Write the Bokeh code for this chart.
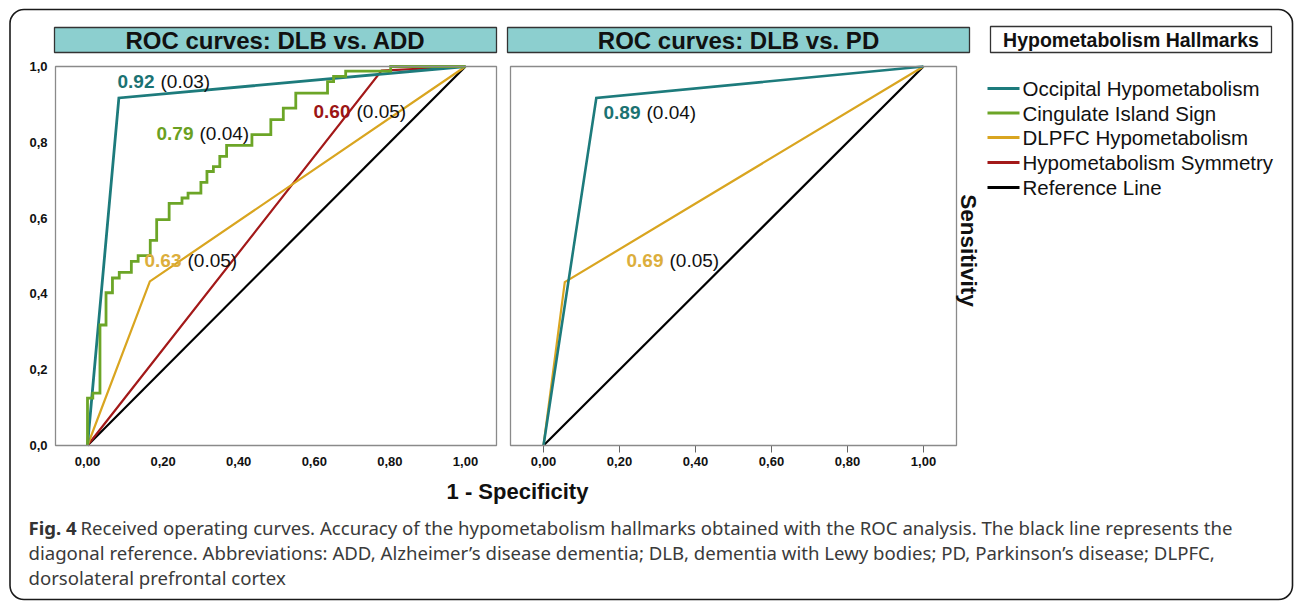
import math
from bokeh.plotting import figure
from bokeh.models import (Range1d, LinearAxis, FixedTicker, CustomJSTickFormatter,
                          BoxAnnotation, Label, ColumnDataSource)
from bokeh.core.properties import value
from bokeh.embed import file_html
from bokeh.resources import INLINE

# ------------------------------------------------------------------ data
tick_values = [0.0, 0.2, 0.4, 0.6, 0.8, 1.0]
panel_titles = ["ROC curves: DLB vs. ADD", "ROC curves: DLB vs. PD"]
legend_title = "Hypometabolism Hallmarks"
series_names = ["Occipital Hypometabolism", "Cingulate Island Sign",
                "DLPFC Hypometabolism", "Hypometabolism Symmetry", "Reference Line"]
x_label = "1 - Specificity"
y_label = "Sensitivity"

# DLB vs. ADD
add_occipital_fpr = [0.0, 0.083, 1.0]
add_occipital_tpr = [0.0, 0.917, 1.0]
# cingulate island sign: 1-specificity at which each sensitivity step occurs, and the new sensitivity
add_cingulate_fpr = [0.0, 0.014, 0.033, 0.049, 0.066, 0.084, 0.116, 0.134, 0.166, 0.183,
                     0.216, 0.250, 0.266, 0.300, 0.316, 0.333, 0.350, 0.368, 0.435, 0.485,
                     0.518, 0.551, 0.635, 0.651, 0.683, 0.802, 1.0]
add_cingulate_tpr = [0.125, 0.138, 0.318, 0.403, 0.442, 0.457, 0.486, 0.501, 0.541, 0.596,
                     0.639, 0.653, 0.666, 0.694, 0.723, 0.736, 0.763, 0.792, 0.820, 0.860,
                     0.890, 0.930, 0.960, 0.974, 0.988, 1.0, 1.0]
add_dlpfc_fpr = [0.0, 0.165, 1.0]
add_dlpfc_tpr = [0.0, 0.433, 1.0]
add_symmetry_fpr = [0.0, 0.778, 1.0]
add_symmetry_tpr = [0.0, 0.989, 1.0]
reference_fpr = [0.0, 1.0]
reference_tpr = [0.0, 1.0]

# DLB vs. PD
pd_occipital_fpr = [0.0, 0.139, 1.0]
pd_occipital_tpr = [0.0, 0.917, 1.0]
pd_dlpfc_fpr = [0.0, 0.056, 1.0]
pd_dlpfc_tpr = [0.0, 0.431, 1.0]

# AUC (SE) annotations: occipital, cingulate, DLPFC, symmetry | occipital, DLPFC
add_auc = ["0.92", "0.79", "0.63", "0.60"]
add_auc_se = ["(0.03)", "(0.04)", "(0.05)", "(0.05)"]
pd_auc = ["0.89", "0.69"]
pd_auc_se = ["(0.04)", "(0.05)"]

caption_bold = "Fig. 4"
caption_lines = [
    "Received operating curves. Accuracy of the hypometabolism hallmarks obtained with the ROC analysis. The black line represents the",
    "diagonal reference. Abbreviations: ADD, Alzheimer\u2019s disease dementia; DLB, dementia with Lewy bodies; PD, Parkinson\u2019s disease; DLPFC,",
    "dorsolateral prefrontal cortex",
]

# ------------------------------------------------------------------ styles / layout
series_colors = ["#1d7b7c", "#6ca527", "#d9a520", "#a31919", "#000000"]
label_colors = ["#1b7272", "#6aa022", "#dcae3c", "#9c1515"]
ARIAL = "Liberation Sans"

WIDTH, HEIGHT = 1294, 602
OX, OY = 0, 0                 # canvas coords equal window pixels
LX0, LXS = 87, 378            # left panel: pixel of fpr=0, pixels per unit
RX0, RXS = 543, 380           # right panel
Y0, YS = 445, 379             # both panels: pixel of tpr=0, pixels per unit

p = figure(width=WIDTH, height=HEIGHT,
           x_range=Range1d(OX, OX + WIDTH), y_range=Range1d(OY + HEIGHT, OY),
           x_axis_type=None, y_axis_type=None,
           toolbar_location=None, output_backend="svg", min_border=0)
p.outline_line_color = None
p.background_fill_color = "white"
p.border_fill_color = "white"
p.extra_x_ranges = {
    "lx": Range1d((OX - LX0) / LXS, (OX + WIDTH - LX0) / LXS),
    "rx": Range1d((OX - RX0) / RXS, (OX + WIDTH - RX0) / RXS),
}
p.extra_y_ranges = {"ry": Range1d((Y0 - (OY + HEIGHT)) / YS, (Y0 - OY) / YS)}

# outer rounded frame
p.add_layout(BoxAnnotation(left=9.5, right=1292, top=9, bottom=599, border_radius=14,
                           fill_color=None, line_color="#1a1a1a", line_alpha=1, line_width=1.6))

# panel frames
for (l, r) in [(55, 496), (510, 956)]:
    p.add_layout(BoxAnnotation(left=l, right=r, top=66, bottom=445, fill_color=None,
                               line_color="#8a8a8a", line_alpha=1, line_width=1.3))

# title boxes
for (l, r), title in zip([(54, 496), (507, 969)], panel_titles):
    p.add_layout(BoxAnnotation(left=l, right=r, top=27, bottom=52, fill_color="#8ccfcf",
                               fill_alpha=1, line_color="#333333", line_alpha=1, line_width=1.3))
    p.add_layout(Label(x=(l + r) / 2, y=40, text=title, text_align="center",
                       text_baseline="middle", text_font=ARIAL, text_font_style="bold",
                       text_font_size="24px", text_color="#111111"))
p.add_layout(BoxAnnotation(left=990, right=1271, top=26, bottom=52, fill_color="white",
                           fill_alpha=1, line_color="#333333", line_alpha=1, line_width=1.3))
p.add_layout(Label(x=1130.5, y=39.5, text=legend_title, text_align="center",
                   text_baseline="middle", text_font=ARIAL, text_font_style="bold",
                   text_font_size="19.5px", text_color="#111111"))

# axes
fmt2 = CustomJSTickFormatter(code="return tick.toFixed(2).replace('.', ',');")
fmt1 = CustomJSTickFormatter(code="return tick.toFixed(1).replace('.', ',');")
label_kw = dict(major_label_text_font=ARIAL, major_label_text_font_style="bold",
                major_label_text_font_size="13px", major_label_text_color="#111111",
                axis_line_color=None, minor_tick_line_color=None, major_tick_in=0)
for rng, tick_len, tick_color, standoff in [("lx", 0, None, 11), ("rx", 7, "#666666", 4)]:
    ax = LinearAxis(x_range_name=rng, y_range_name="ry", fixed_location=0.0, bounds=(0, 1),
                    ticker=FixedTicker(ticks=tick_values), formatter=fmt2,
                    major_tick_out=tick_len, major_tick_line_color=tick_color,
                    major_label_standoff=standoff, **label_kw)
    p.add_layout(ax, "below")
ay = LinearAxis(x_range_name="lx", y_range_name="ry", fixed_location=(55 - LX0) / LXS,
                bounds=(0, 1), ticker=FixedTicker(ticks=tick_values), formatter=fmt1,
                major_tick_out=0, major_tick_line_color=None, major_label_standoff=8, **label_kw)
p.add_layout(ay, "left")

# curves
def staircase(xs, ys):
    sx, sy = [0.0], [0.0]
    for x, y in zip(xs, ys):
        sx += [x, x]
        sy += [sy[-1], y]
    return sx, sy

cis_x, cis_y = staircase(add_cingulate_fpr, add_cingulate_tpr)
left_curves = [
    (reference_fpr, reference_tpr, 4, 2.2),
    (add_symmetry_fpr, add_symmetry_tpr, 3, 2.2),
    (add_dlpfc_fpr, add_dlpfc_tpr, 2, 2.2),
    (add_occipital_fpr, add_occipital_tpr, 0, 2.8),
    (cis_x, cis_y, 1, 2.8),
]
for xs, ys, ci, lw in left_curves:
    p.line(xs, ys, x_range_name="lx", y_range_name="ry", line_color=series_colors[ci],
           line_width=lw, line_join="miter")
right_curves = [
    (reference_fpr, reference_tpr, 4, 2.2),
    (pd_dlpfc_fpr, pd_dlpfc_tpr, 2, 2.2),
    (pd_occipital_fpr, pd_occipital_tpr, 0, 2.6),
]
for xs, ys, ci, lw in right_curves:
    p.line(xs, ys, x_range_name="rx", y_range_name="ry", line_color=series_colors[ci],
           line_width=lw, line_join="miter")

# AUC (SE) labels
auc_src = ColumnDataSource(dict(
    x=[117, 156, 144, 313, 603, 626], y=[81, 133, 260, 111, 112, 260],
    auc=add_auc + pd_auc, se=add_auc_se + pd_auc_se,
    color=label_colors + [label_colors[0], label_colors[2]]))
p.text(x="x", y="y", text="auc", source=auc_src, text_color="color",
       text_font=value(ARIAL), text_font_style="bold", text_font_size="19px",
       text_baseline="middle")
p.text(x="x", y="y", text="se", source=auc_src, x_offset=43, text_color="#111111",
       text_font=value(ARIAL), text_font_size="19px", text_baseline="middle")

# legend
legend_y = [88, 112.5, 137, 162, 187]
p.segment(x0=987, x1=1019, y0=legend_y, y1=legend_y, line_color=series_colors, line_width=3)
p.text(x=1022, y=legend_y, text=series_names, text_font=value(ARIAL), text_font_size="20.5px",
       text_baseline="middle", text_color="#111111")

# axis titles
p.add_layout(Label(x=517, y=491, text=x_label, text_align="center", text_baseline="middle",
                   text_font=ARIAL, text_font_style="bold", text_font_size="22px",
                   text_color="#111111"))
p.add_layout(Label(x=968, y=250, text=y_label, angle=-math.pi / 2, text_align="center",
                   text_baseline="middle", text_font=ARIAL, text_font_style="bold",
                   text_font_size="22.5px", text_color="#111111"))

# caption
CAP = "Noto Sans"
p.add_layout(Label(x=28, y=527, text=caption_bold, text_baseline="middle", text_font=CAP,
                   text_font_style="bold", text_font_size="18.6px", text_color="#333333"))
p.add_layout(Label(x=80, y=527, text=caption_lines[0], text_baseline="middle", text_font=CAP,
                   text_font_size="18.6px", text_color="#3a3a3a"))
for i, line in enumerate(caption_lines[1:]):
    p.add_layout(Label(x=28, y=552 + 25 * i, text=line, text_baseline="middle", text_font=CAP,
                       text_font_size="18.6px", text_color="#3a3a3a"))

open("out.html", "w").write(file_html(p, INLINE))
